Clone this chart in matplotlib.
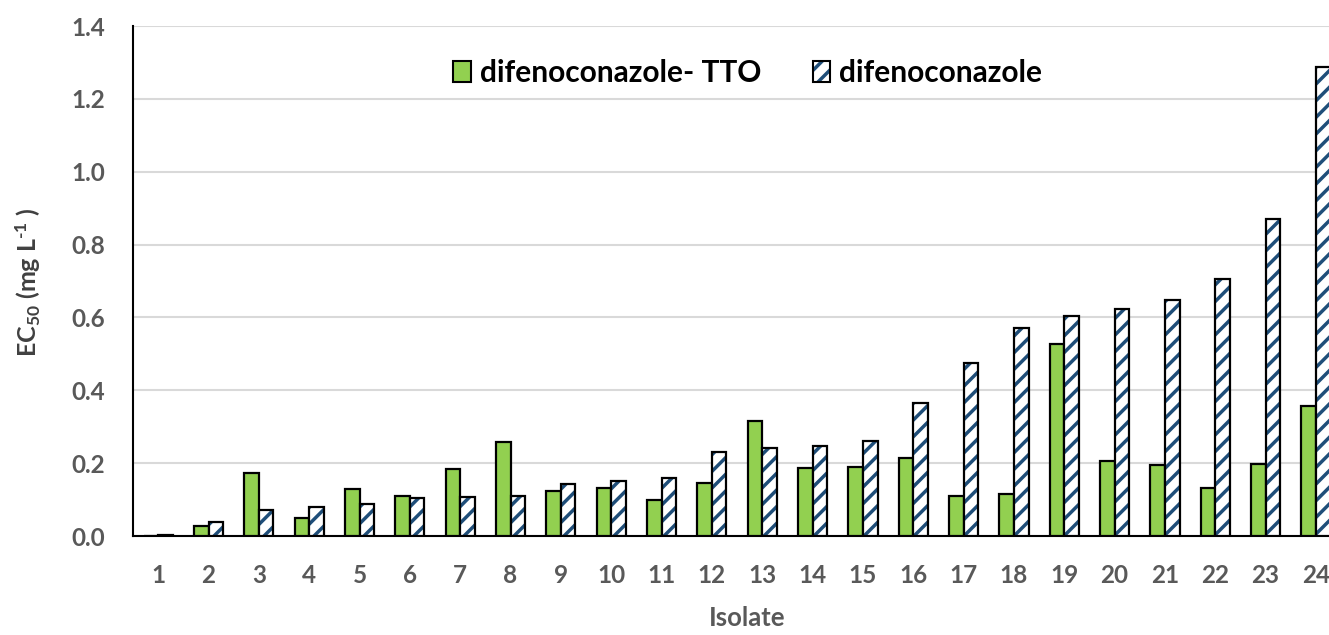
import numpy as np
import matplotlib
matplotlib.use("Agg")
import matplotlib.pyplot as plt
from matplotlib.patches import Patch
from matplotlib.legend_handler import HandlerTuple

plt.rcParams['font.family'] = ['Lato', 'DejaVu Sans']
plt.rcParams['mathtext.default'] = 'regular'
plt.rcParams['hatch.linewidth'] = 2.5

# EC50 values per isolate
isolates = [str(i) for i in range(1, 25)]
difeno_tto = [0.0, 0.028, 0.172, 0.050, 0.129, 0.111, 0.185, 0.259,
              0.124, 0.133, 0.099, 0.145, 0.317, 0.186, 0.190, 0.213,
              0.109, 0.116, 0.527, 0.207, 0.194, 0.133, 0.197, 0.358]
difeno = [0.004, 0.038, 0.071, 0.080, 0.087, 0.105, 0.108, 0.111,
          0.142, 0.152, 0.160, 0.231, 0.241, 0.247, 0.262, 0.364,
          0.475, 0.570, 0.605, 0.623, 0.647, 0.706, 0.869, 1.287]
yticks = [0.0, 0.2, 0.4, 0.6, 0.8, 1.0, 1.2, 1.4]

green = '#92D050'
blue = '#1F4E79'
gray = '#595959'

fig = plt.figure(figsize=(13.29, 6.35), dpi=100)
# axis runs slightly past the right edge of the figure
ax = fig.add_axes([0.1001, 0.1559, 0.909, 0.803])

x = np.arange(len(isolates))
w = 0.29
ax.bar(x - w / 2, difeno_tto, w, color=green, edgecolor='black', linewidth=1.6, zorder=3)
# hatched fill first, then the black outline on top
ax.bar(x + w / 2, difeno, w, color='white', edgecolor=blue, hatch='//', linewidth=0, zorder=3)
ax.bar(x + w / 2, difeno, w, fill=False, edgecolor='black', linewidth=1.6, zorder=4)

ax.set_xlim(-0.5, len(isolates) - 0.5)
ax.set_ylim(0, 1.4)
ax.set_xticks(x)
ax.set_xticklabels(isolates)
ax.set_yticks(yticks)
ax.set_yticklabels(['%.1f' % v for v in yticks])
ax.tick_params(axis='both', length=0, labelsize=17.5, labelcolor=gray)
ax.tick_params(axis='y', pad=20)
ax.tick_params(axis='x', pad=20)
for lab in ax.get_xticklabels() + ax.get_yticklabels():
    lab.set_fontweight('bold')

ax.grid(axis='y', color='#D9D9D9', linewidth=1.5, zorder=0)
ax.set_axisbelow(True)
for s in ['top', 'right']:
    ax.spines[s].set_visible(False)
ax.spines['left'].set_linewidth(1.5)
ax.spines['bottom'].set_linewidth(1.5)

fig.text(0.562, 0.008, 'Isolate', fontsize=18.5, fontweight='bold', color=gray,
         ha='center', va='bottom')
fig.text(0.021, 0.555, 'EC$_{50}$ (mg L$^{\u2010 1}$ )', rotation=90,
         fontsize=18, fontweight='bold', color='#404040', ha='center', va='center')

h1 = Patch(facecolor=green, edgecolor='black', linewidth=1.5)
h2a = Patch(facecolor='white', edgecolor=blue, hatch='//', linewidth=0)
h2b = Patch(fill=False, edgecolor='black', linewidth=1.5)
ax.legend([h1, (h2a, h2b)], ['difenoconazole- TTO', 'difenoconazole'],
          handler_map={tuple: HandlerTuple(ndivide=1, pad=0)},
          loc='center', bbox_to_anchor=(0.509, 0.908), ncol=2, frameon=False,
          prop={'size': 21.5, 'weight': 'bold'}, handlelength=0.6, handleheight=0.7,
          handletextpad=0.3, columnspacing=1.7)

fig.savefig('out.png', dpi=100)
